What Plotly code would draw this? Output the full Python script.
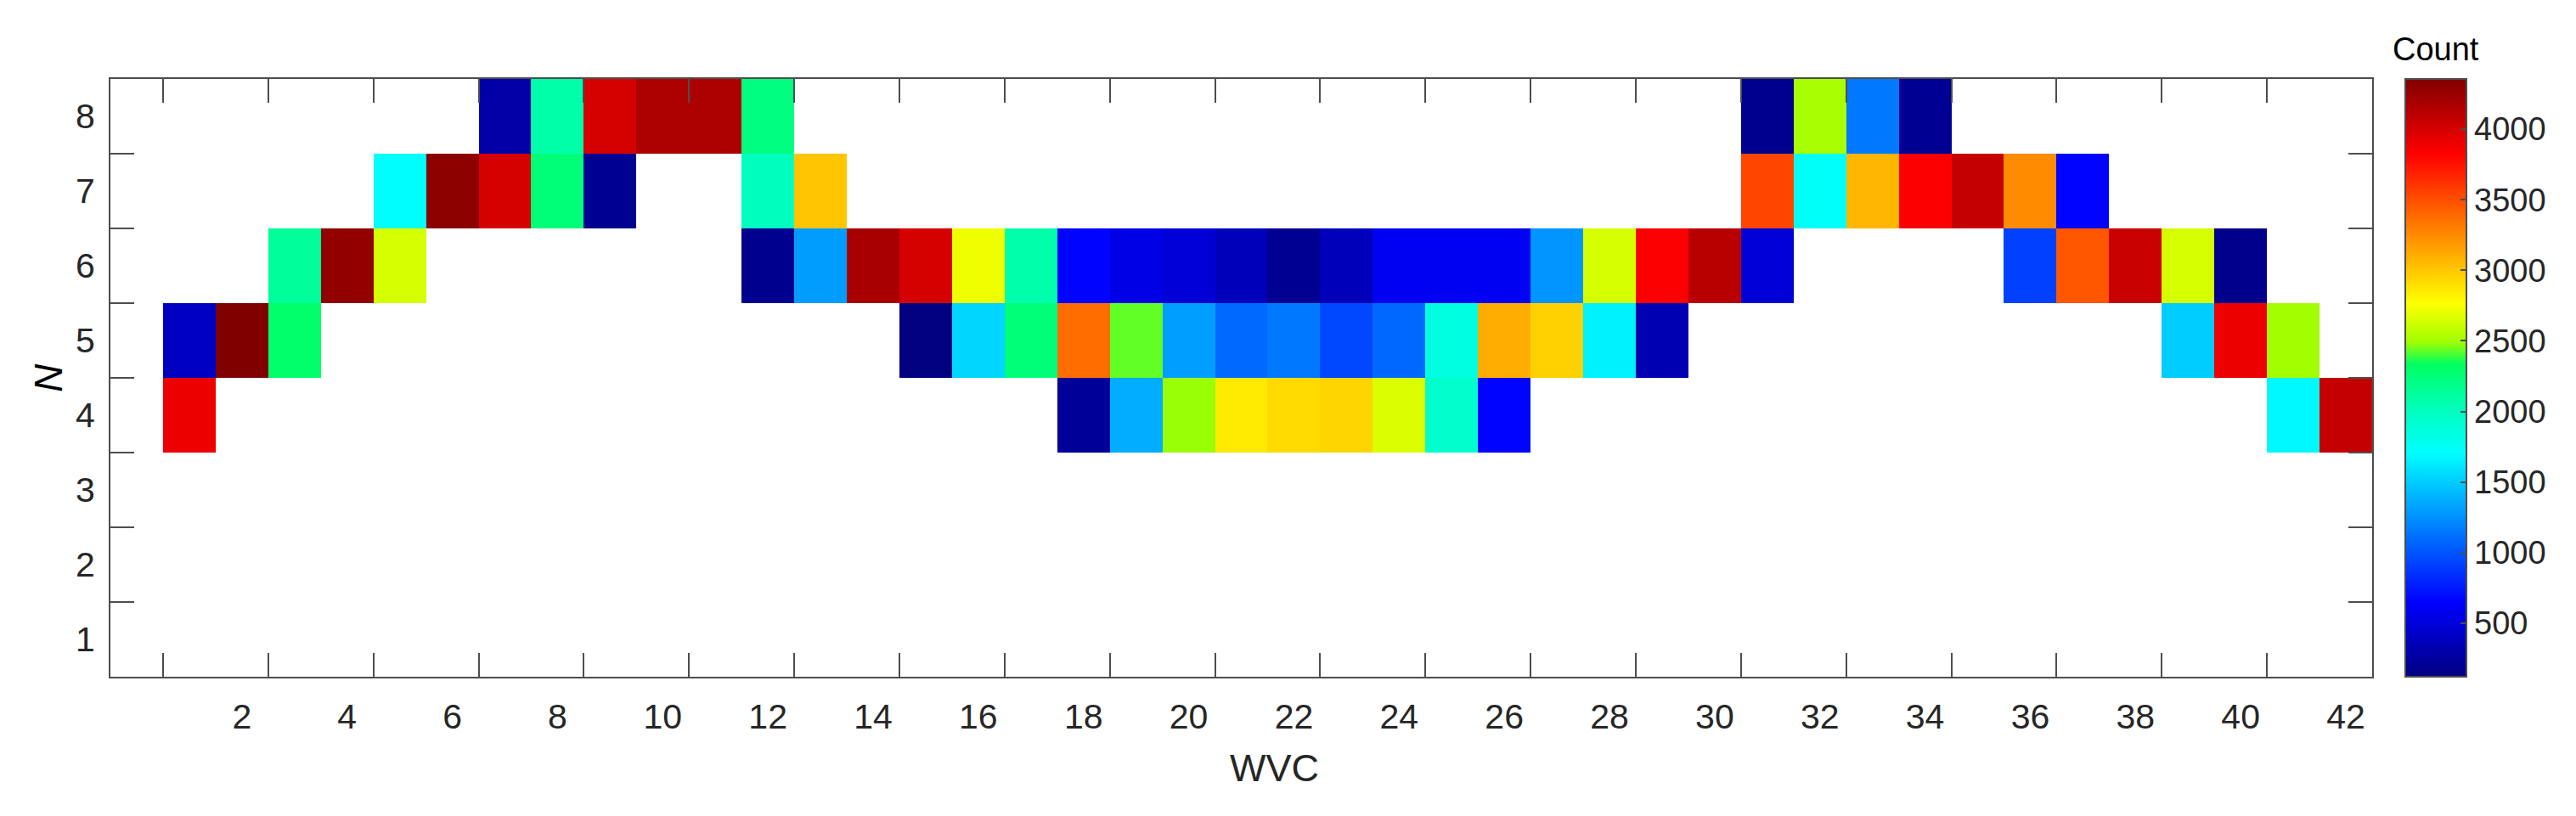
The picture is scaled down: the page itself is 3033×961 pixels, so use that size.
import plotly.graph_objects as go

# ---- data ----
wvc = list(range(1, 43))                 # x categories (WVC index)
n_levels = [1, 2, 3, 4, 5, 6, 7, 8]      # y categories (N)
x_tick_labels = [str(v) for v in range(2, 43, 2)]
y_tick_labels = [str(v) for v in n_levels]
cbar_ticks = [500, 1000, 1500, 2000, 2500, 3000, 3500, 4000]

# counts per N row, keyed by WVC (missing = empty cell)
row_n8 = {7: 280, 8: 2080, 9: 4000, 10: 4170, 11: 4170, 12: 2220,
          31: 180, 32: 2515, 33: 1150, 34: 200}
row_n7 = {5: 1720, 6: 4300, 7: 4000, 8: 2250, 9: 190, 12: 2005, 13: 3010,
          31: 3540, 32: 1740, 33: 3070, 34: 3840, 35: 4070, 36: 3250, 37: 660}
row_n6 = {3: 2130, 4: 4280, 5: 2645, 12: 180, 13: 1300, 14: 4190, 15: 4000,
          16: 2725, 17: 2075, 18: 660, 19: 550, 20: 480, 21: 360, 22: 190,
          23: 360, 24: 595, 25: 600, 26: 600, 27: 1270, 28: 2645, 29: 3840,
          30: 4120, 31: 480, 36: 920, 37: 3470, 38: 4050, 39: 2645, 40: 170}
row_n5 = {1: 400, 2: 4356, 3: 2300, 15: 120, 16: 1540, 17: 2250, 18: 3380,
          19: 2430, 20: 1310, 21: 1090, 22: 1150, 23: 950, 24: 1080, 25: 1850,
          26: 3110, 27: 2960, 28: 1650, 29: 330, 39: 1500, 40: 3900, 41: 2500}
row_n4 = {1: 3900, 18: 220, 19: 1370, 20: 2485, 21: 2860, 22: 2920, 23: 2940,
          24: 2660, 25: 1940, 26: 660, 41: 1680, 42: 4070}
row_n3 = {}
row_n2 = {}
row_n1 = {}

rows = [row_n1, row_n2, row_n3, row_n4, row_n5, row_n6, row_n7, row_n8]
z = [[r.get(x) for x in wvc] for r in rows]

# jet-like colormap (passes through pure green between cyan and yellow)
jet = [[0.0, "rgb(0,0,128)"], [0.125, "rgb(0,0,255)"], [0.375, "rgb(0,255,255)"],
       [0.445, "rgb(0,255,190)"], [0.523, "rgb(0,255,96)"],
       [0.56, "rgb(160,255,0)"], [0.625, "rgb(255,255,0)"],
       [0.875, "rgb(255,0,0)"], [1.0, "rgb(128,0,0)"]]

FONT = "Liberation Sans, Arial, Helvetica, sans-serif"
AX = "#4d4d4d"
TXT = "#262626"

# page body has an 8px default margin; compensate so the plot lands where intended
W, H = 3017, 945
ML, MT = 122, 85
PLOT_W, PLOT_H = 2663, 704

fig = go.Figure()
fig.add_trace(go.Heatmap(
    x=wvc, y=n_levels, z=z, colorscale=jet, hoverongaps=False,
    colorbar=dict(
        x=1.0145, xanchor="left", xref="paper", y=0.5, yanchor="middle",
        len=1.0, lenmode="fraction", thickness=72, thicknessmode="pixels",
        outlinecolor=AX, outlinewidth=2, xpad=0, ypad=0,
        tickvals=cbar_ticks, tickprefix="\u2009",
        ticks="inside", ticklen=8, tickwidth=2, tickcolor=AX,
        tickfont=dict(family=FONT, size=38, color=TXT),
    ),
))
# dummy trace for the tick-mark overlay axes
fig.add_trace(go.Scatter(x=[], y=[], xaxis="x2", yaxis="y2",
                         showlegend=False, hoverinfo="skip"))

xr = [-0.5, 42.5]
yr = [0.5, 8.5]
fig.update_layout(
    width=W, height=H,
    margin=dict(l=ML, r=W - ML - PLOT_W, t=MT, b=H - MT - PLOT_H, pad=0),
    paper_bgcolor="white", plot_bgcolor="white",
    font=dict(family=FONT, color=TXT),
    showlegend=False,
    xaxis=dict(range=xr, tickmode="array", tickvals=list(range(2, 43, 2)),
               ticktext=x_tick_labels, ticks="", showgrid=False, zeroline=False,
               showline=True, linecolor=AX, linewidth=2, mirror=True,
               tickfont=dict(family=FONT, size=41, color=TXT),
               ticklabelstandoff=10),
    yaxis=dict(range=yr, tickmode="array", tickvals=n_levels,
               ticktext=y_tick_labels, ticks="", showgrid=False, zeroline=False,
               showline=True, linecolor=AX, linewidth=2, mirror=True,
               tickfont=dict(family=FONT, size=41, color=TXT),
               ticklabelstandoff=8),
    xaxis2=dict(range=xr, overlaying="x", anchor="y2", side="bottom",
                tickmode="array", tickvals=[v + 0.5 for v in range(0, 42, 2)],
                ticks="inside", ticklen=28, tickwidth=2, tickcolor=AX,
                showticklabels=False, showgrid=False, zeroline=False,
                showline=False, mirror="ticks"),
    yaxis2=dict(range=yr, overlaying="y", anchor="x2", side="left",
                tickmode="array", tickvals=[v + 0.5 for v in range(1, 8)],
                ticks="inside", ticklen=28, tickwidth=2, tickcolor=AX,
                showticklabels=False, showgrid=False, zeroline=False,
                showline=False, mirror="ticks"),
    annotations=[
        dict(text="WVC", xref="paper", yref="paper", x=0.5145, y=-0.1534,
             xanchor="center", yanchor="middle", showarrow=False,
             font=dict(family=FONT, size=45, color=TXT)),
        dict(text="<i>N</i>", xref="paper", yref="paper", x=-0.0274, y=0.5,
             xanchor="center", yanchor="middle", showarrow=False, textangle=-90,
             font=dict(family=FONT, size=46, color="black")),
        dict(text="Count", xref="paper", yref="paper", x=1.0282, y=1.0497,
             xanchor="center", yanchor="middle", showarrow=False,
             font=dict(family=FONT, size=38, color="black")),
    ],
)

fig.write_html("out.html")
